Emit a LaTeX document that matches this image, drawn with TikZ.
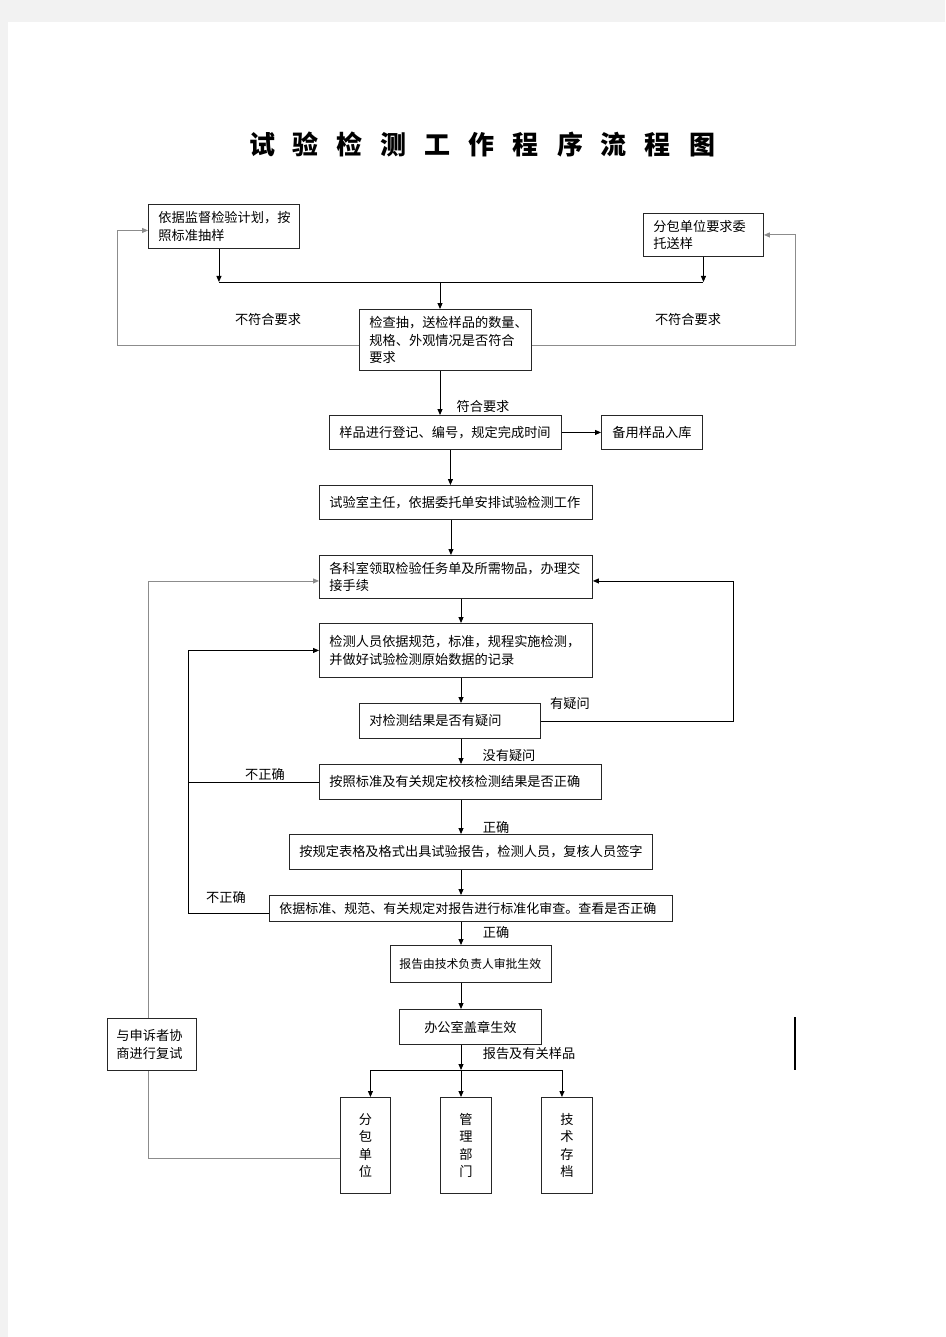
\documentclass[tikz,border=0pt]{standalone}
\usepackage{fontspec}
\setmainfont{Noto Sans CJK SC}
\usepackage{tikz}
\usetikzlibrary{positioning, arrows.meta}

\newcommand{\bodyfont}{\fontsize{13.2}{17.5}\selectfont}
\newcommand{\tsp}{\hspace{18pt}}

\begin{document}
\begin{tikzpicture}[x=1pt, y=-1pt,
    box/.style={draw=black!85, line width=0.9pt, anchor=north west, inner xsep=10pt,
        inner ysep=0pt, align=left, font=\bodyfont},
    vbox/.style={box, align=center, text width=30pt, minimum height=96pt},
    lbl/.style={font=\bodyfont, inner sep=0pt},
    arr/.style={-{Triangle[length=6pt,width=5pt]}},
    greyline/.style={draw=black!45},
    every path/.style={line width=0.9pt}]

    % page
    \useasboundingbox (0,0) rectangle (945,1337);
    \fill[black!5] (0,0) rectangle (945,1337);
    \fill[white] (8,22) rectangle (945,1337);

    \node[font=\fontsize{26}{30}\selectfont\bfseries] (title) at (482,145)
        {试\tsp 验\tsp 检\tsp 测\tsp 工\tsp 作\tsp 程\tsp 序\tsp 流\tsp 程\tsp 图};

    % boxes
    \node[box, text width=131pt, minimum height=44pt] (plan) at (148,204) {依据监督检验计划，按\\照标准抽样};
    \node[box, text width=100pt, minimum height=43pt] (sub) at (643,213) {分包单位要求委\\托送样};
    \node[box, text width=152pt, minimum height=61pt] (check) at (359,309) {检查抽，送检样品的数量、\\规格、外观情况是否符合\\要求};
    \node[box, text width=212pt, minimum height=34pt] (reg) at (329,415) {样品进行登记、编号，规定完成时间};
    \node[box, text width=81pt, minimum height=34pt, align=center] (spare) at (601,415) {备用样品入库};
    \node[box, text width=253pt, minimum height=34pt] (assign) at (319,485) {试验室主任，依据委托单安排试验检测工作};
    \node[box, text width=253pt, minimum height=43pt] (task) at (319,555) {各科室领取检验任务单及所需物品，办理交\\接手续};
    \node[box, text width=253pt, minimum height=54pt] (test) at (319,623) {检测人员依据规范，标准，规程实施检测，\\并做好试验检测原始数据的记录};
    \node[box, text width=161pt, minimum height=35pt] (doubt) at (359,703) {对检测结果是否有疑问};
    \node[box, text width=262pt, minimum height=35pt] (verify) at (319,764) {按照标准及有关规定校核检测结果是否正确};
    \node[box, text width=343pt, minimum height=35pt] (report) at (289,834) {按规定表格及格式出具试验报告，检测人员，复核人员签字};
    \node[box, text width=383pt, minimum height=26pt, font=\fontsize{13}{17}\selectfont] (review) at (269,895) {依据标准、规范、有关规定对报告进行标准化审查。查看是否正确};
    \node[box, text width=143pt, minimum height=37pt, inner xsep=9pt, font=\fontsize{11.8}{16}\selectfont] (approve) at (390,945) {报告由技术负责人审批生效};
    \node[box, text width=122pt, minimum height=35pt, align=center] (office) at (399,1009) {办公室盖章生效};
    \node[box, text width=71pt, minimum height=52pt, inner xsep=9pt] (retest) at (107,1018) {与申诉者协\\商进行复试};
    \node[vbox] (subu) at (340,1097) {分\\包\\单\\位};
    \node[vbox, text width=31pt] (mgmt) at (440,1097) {管\\理\\部\\门};
    \node[vbox, text width=31pt] (arch) at (541,1097) {技\\术\\存\\档};

    % helper coordinates
    \coordinate (join) at (440,282);
    \coordinate (axis) at (461,0);
    \coordinate (fork) at (461,1070);
    \coordinate (lloop) at (117,0);
    \coordinate (rloop) at (795,0);
    \coordinate (qloop) at (733,0);
    \coordinate (floop) at (188,0);

    % labels
    \node[lbl] (failL) at (268,319) {不符合要求};
    \node[lbl] (failR) at (688,319) {不符合要求};
    \node[lbl] (pass) at (483,406) {符合要求};
    \node[lbl] (yes) at (570,704) {有疑问};
    \node[lbl] (no) at (509,756) {没有疑问};
    \node[lbl] (wrongA) at (265,774) {不正确};
    \node[lbl] (rightA) at (496,827) {正确};
    \node[lbl] (wrongB) at (226,897) {不正确};
    \node[lbl] (rightB) at (496,932) {正确};
    \node[lbl] (goods) at (529,1054) {报告及有关样品};

    % sampling
    \draw[arr] ([xshift=-5pt]plan.south) -- ([xshift=-5pt]plan.south |- join);
    \draw[arr] (sub.south) -- (sub.south |- join);
    \draw ([xshift=-5pt]plan.south |- join) -- (sub.south |- join);
    \draw[arr] (join) -- (join |- check.north);
    \draw[greyline, arr] ([yshift=-5pt]check.west) -- ([yshift=-5pt]check.west -| lloop) |- ([yshift=-4pt]plan.west);
    \draw[greyline, arr] ([yshift=-5pt]check.east) -- ([yshift=-5pt]check.east -| rloop) |- (sub.east);

    % main line
    \draw[arr] (join |- check.south) -- (join |- reg.north);
    \draw[arr] (reg.east) -- (spare.west);
    \draw[arr] ([xshift=5pt]reg.south) -- ([xshift=5pt]reg.south |- assign.north);
    \draw[arr] ([xshift=-5pt]assign.south) -- ([xshift=-5pt]assign.south |- task.north);
    \draw[arr] (axis |- task.south) -- (axis |- test.north);
    \draw[arr] (axis |- test.south) -- (axis |- doubt.north);
    \draw[arr] (axis |- doubt.south) -- (axis |- verify.north);
    \draw[arr] (axis |- verify.south) -- (axis |- report.north);
    \draw[arr] (axis |- report.south) -- (axis |- review.north);
    \draw[arr] (axis |- review.south) -- (axis |- approve.north);
    \draw[arr] (axis |- approve.south) -- (axis |- office.north);
    \draw[arr] (axis |- office.south) -- (fork);

    % loops back
    \draw[arr] (doubt.east) -- (doubt.east -| qloop) |- ([yshift=-4pt]task.east);
    \draw[arr] (verify.west) -- (verify.west -| floop) |- (test.west);
    \draw ([yshift=-5pt]review.west) -- ([yshift=-5pt]review.west -| floop) -- (verify.west -| floop);

    % distribution
    \draw ([xshift=5pt]fork -| subu.north) -- ([xshift=-5pt]fork -| arch.north);
    \draw[arr] ([xshift=5pt]fork -| subu.north) -- ([xshift=5pt]subu.north);
    \draw[arr] (fork) -- (fork |- mgmt.north);
    \draw[arr] ([xshift=-5pt]fork -| arch.north) -- ([xshift=-5pt]arch.north);

    % complaint
    \draw[greyline] ([yshift=-13pt]subu.west) -| ([xshift=-4pt]retest.south);
    \draw[greyline, arr] ([xshift=-4pt]retest.north) |- ([yshift=-4pt]task.west);

    \draw[line width=1.2pt] (795,1017) -- (795,1070);
\end{tikzpicture}
\end{document}
